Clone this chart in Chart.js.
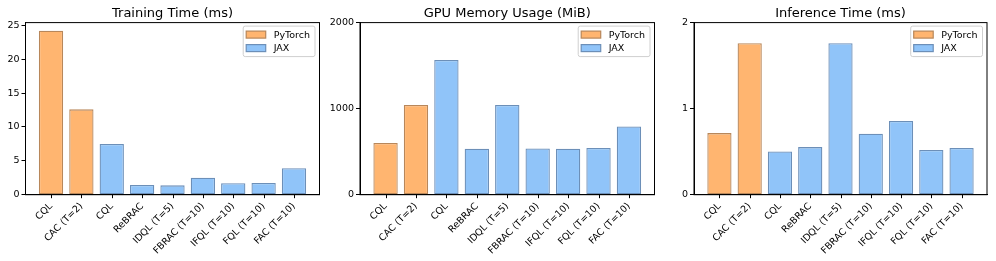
<!DOCTYPE html>
<html>
<head>
<meta charset="utf-8">
<script src="https://cdn.jsdelivr.net/npm/chart.js@4/dist/chart.umd.min.js"></script>
<style>
  html, body { margin: 0; padding: 0; background: #fff; }
  body { width: 996px; height: 261px; position: relative; overflow: hidden; }
  canvas { position: absolute; top: 0; }
</style>
</head>
<body>
<canvas id="c1" width="330" height="261" style="left:0px"></canvas>
<canvas id="c2" width="330" height="261" style="left:330px"></canvas>
<canvas id="c3" width="336" height="261" style="left:660px"></canvas>
<script>
// ---- data ----
const categories = ["CQL", "CAC (T=2)", "CQL", "ReBRAC", "IDQL (T=5)", "FBRAC (T=10)", "IFQL (T=10)", "FQL (T=10)", "FAC (T=10)"];
const frameworks = ["PyTorch", "PyTorch", "JAX", "JAX", "JAX", "JAX", "JAX", "JAX", "JAX"];
const seriesNames = ["PyTorch", "JAX"];
const trainingTime = [24.2, 12.6, 7.5, 1.45, 1.38, 2.5, 1.68, 1.72, 3.9];
const gpuMemory = [600, 1042, 1565, 535, 1042, 538, 535, 542, 794];
const inferenceTime = [0.716, 1.76, 0.503, 0.553, 1.76, 0.709, 0.856, 0.519, 0.542];
const titles = ["Training Time (ms)", "GPU Memory Usage (MiB)", "Inference Time (ms)"];
const yMax = [25.41, 2000, 2];
const yStep = [5, 1000, 1];

const FONT = "'DejaVu Sans', sans-serif";
const fills = { PyTorch: "#FFB570", JAX: "#90C4F9" };
const edges = { PyTorch: "#B8875A", JAX: "#6C8FB8" };

const framePlugin = {
  id: 'frame',
  afterDraw(chart) {
    const a = chart.chartArea, ctx = chart.ctx;
    const xs = chart.scales.x;
    ctx.save();
    ctx.strokeStyle = '#000';
    ctx.lineWidth = 1;
    ctx.strokeRect(a.left, a.top, a.right - a.left, a.bottom - a.top);
    // x tick marks at category positions
    ctx.beginPath();
    categories.forEach((c, i) => {
      const px = Math.round(xs.getPixelForValue(i)) + 0.5;
      ctx.moveTo(px, a.bottom);
      ctx.lineTo(px, a.bottom + 3.5);
    });
    ctx.stroke();
    // legend
    ctx.font = "9.5px " + FONT;
    const tw = Math.max(...seriesNames.map(s => ctx.measureText(s).width));
    const w = 3 + 19.5 + 8 + tw + 5;
    const h = 30.5;
    const x0 = a.right - 4.5 - w, y0 = a.top + 3.5;
    ctx.fillStyle = 'rgba(255,255,255,0.85)';
    ctx.strokeStyle = '#cfcfcf';
    ctx.lineWidth = 1;
    ctx.beginPath();
    ctx.roundRect(x0, y0, w, h, 2);
    ctx.fill(); ctx.stroke();
    seriesNames.forEach((s, i) => {
      const cy = y0 + 8.5 + i * 13.5;
      ctx.fillStyle = fills[s];
      ctx.strokeStyle = edges[s];
      ctx.lineWidth = 1.2;
      ctx.fillRect(x0 + 3, cy - 3.5, 19.5, 7);
      ctx.strokeRect(x0 + 3, cy - 3.5, 19.5, 7);
      ctx.fillStyle = '#000';
      ctx.textBaseline = 'middle';
      ctx.textAlign = 'left';
      ctx.fillText(s, x0 + 3 + 19.5 + 8, cy + 0.5);
    });
    ctx.restore();
  }
};

function makeChart(id, values, idx, yWidth, rightPad) {
  const datasets = seriesNames.map(s => ({
    label: s,
    data: values.map((v, i) => frameworks[i] === s ? { x: i, y: v } : null).filter(p => p),
    backgroundColor: fills[s],
    borderColor: edges[s],
    borderWidth: 1.3,
    borderSkipped: false,
    barPercentage: 0.8,
    categoryPercentage: 1,
    grouped: false
  }));
  new Chart(document.getElementById(id), {
    type: 'bar',
    data: { datasets },
    plugins: [framePlugin],
    options: {
      animation: false,
      responsive: false,
      layout: { padding: { left: 0, right: rightPad, top: 0, bottom: 0 } },
      plugins: {
        legend: { display: false },
        tooltip: { enabled: false },
        title: {
          display: true, fullSize: false, text: titles[idx], color: '#000',
          font: { family: FONT, size: 13, weight: 'normal', lineHeight: 1.2 },
          padding: { top: 5.5, bottom: 1.5 }
        }
      },
      scales: {
        x: {
          type: 'linear', min: -0.84, max: 8.84, offset: false,
          grid: { display: false, drawTicks: false, tickLength: 4 },
          border: { display: true, color: '#000', width: 1 },
          afterBuildTicks: s => { s.ticks = categories.map((c, i) => ({ value: i })); },
          ticks: {
            autoSkip: false,
            maxRotation: 45, minRotation: 45, padding: 6, color: '#000',
            font: { family: FONT, size: 9.5 },
            callback: v => categories[v]
          },
          afterFit: s => { s.height = 66.3; s.paddingLeft = 0; s.paddingRight = 0; }
        },
        y: {
          min: 0, max: yMax[idx],
          grid: { display: true, drawOnChartArea: false, drawTicks: true, tickLength: 4, color: '#000' },
          border: { display: true, color: '#000', width: 1 },
          afterBuildTicks: s => { s.ticks = s.ticks.filter(t => t.value <= yMax[idx] + 1e-9 && Math.abs(t.value / yStep[idx] - Math.round(t.value / yStep[idx])) < 1e-6); },
          ticks: {
            stepSize: yStep[idx], includeBounds: false, padding: 2, color: '#000',
            font: { family: FONT, size: 9.5 },
            callback: v => String(v)
          },
          afterFit: s => { s.width = yWidth; s.paddingTop = 0; s.paddingBottom = 0; }
        }
      }
    }
  });
}

makeChart('c1', trainingTime, 0, 25.5, 10.5);
makeChart('c2', gpuMemory, 1, 30, 5.5);
makeChart('c3', inferenceTime, 2, 34, 9);
</script>
</body>
</html>
